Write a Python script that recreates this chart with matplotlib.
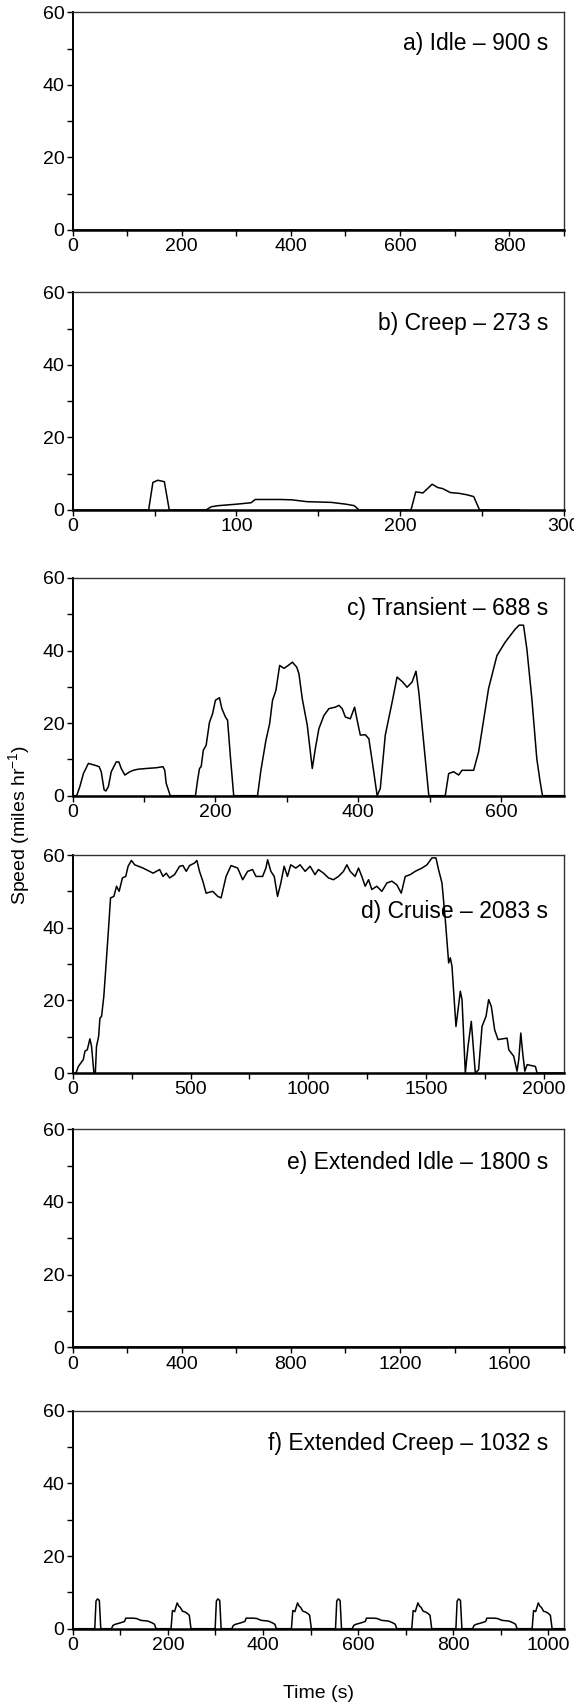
import matplotlib
matplotlib.use('Agg')
import matplotlib.pyplot as plt
from matplotlib.ticker import MultipleLocator
import numpy as np

# fonts
plt.rcParams['font.family'] = ['Liberation Sans', 'DejaVu Sans']
plt.rcParams['mathtext.fontset'] = 'custom'
plt.rcParams['mathtext.rm'] = 'Liberation Sans'

# a) idle
idle_t = [0, 900]
idle_v = [0, 0]

# b) creep
creep_t = [0, 46.4, 49, 52, 56, 59, 81.4, 84.7, 89, 100, 109, 111.5, 127, 134, 143,
           158, 167, 172, 175, 206.7, 209.6, 214, 219.6, 223, 226, 230.8, 236,
           240.8, 245, 248.6, 273]
creep_v = [0, 0, 7.6, 8.2, 7.8, 0, 0, 0.9, 1.2, 1.6, 2.0, 2.9, 2.9, 2.8, 2.3,
           2.1, 1.6, 1.2, 0, 0, 5.0, 4.7, 7.1, 6.2, 5.9, 4.8, 4.6,
           4.2, 3.7, 0, 0]

# c) transient
trans_t = [0, 5.6, 10, 15, 22, 31, 37, 40, 44, 46.5, 50, 54, 61, 64.7, 68, 73, 80,
           85, 91.6, 103, 117, 126.5, 129, 131, 136.7, 172, 175, 177.7, 180, 183,
           187, 191.6, 196, 200, 205.6, 209, 214, 217, 221, 225.6, 259, 263.7,
           270.7, 276, 280, 284.7, 290, 296, 302, 307.9, 314, 317, 321.7, 328.7,
           335.7, 340, 345, 352, 359, 368, 373, 377.6, 382, 389, 395, 398.6, 403,
           410, 415, 420.5, 426.6, 431, 438, 447.6, 454.5, 462.5, 468.5, 475.5,
           481, 485, 499, 522, 526.8, 533.8, 540.8, 545.5, 561.8, 568.8, 582.7,
           594.4, 606, 620, 625.6, 631.7, 636.4, 643.4, 650.3, 655, 658.3, 688]
trans_v = [0, 0, 2.5, 6.1, 8.9, 8.4, 8.0, 6.6, 1.6, 1.3, 2.5, 6.6, 9.3, 9.3, 7.5,
           5.7, 6.6, 7.0, 7.3, 7.5, 7.7, 8.0, 7.0, 3.4, 0, 0, 4.3, 7.5, 8.0, 12.5,
           13.9, 20.2, 22.6, 26.3, 27.0, 24.0, 21.7, 20.8, 10.7, 0, 0, 7.0,
           15.2, 19.9, 26.3, 29.0, 35.9, 35.1, 35.9, 36.8, 35.4, 33.6, 26.7, 19.4,
           7.5, 13.0, 18.5, 22.1, 24.0, 24.4, 24.9, 24.0, 21.7, 21.2, 24.4, 20.8,
           16.7, 16.8, 15.7, 8.4, 0, 2.0, 16.7, 25.8, 32.7, 31.3, 29.9, 31.3,
           34.3, 28.5, 0, 0, 6.1, 6.6, 5.7, 7.0, 7.0, 12.1, 29.5,
           38.6, 42.3, 45.9, 47.0, 47.0, 40.4, 26.7, 10.2, 3.8, 0, 0]

# d) cruise
cruise_t = [0, 14, 24, 45, 52, 62, 73, 80, 90, 96, 101, 110, 115.5, 122.5, 132,
            141, 150.7, 160.6, 174.6, 186, 197, 211, 225, 235, 249, 263, 298.6,
            341, 369, 383, 397, 411, 432, 453.5, 467.6, 481.7, 495.8, 517, 526.8,
            538, 552, 566, 594, 615.5, 629.6, 650.7, 671.8, 700, 721, 742, 763,
            777.5, 805.6, 819.7, 826.8, 840.8, 855, 869, 883, 897, 911, 925,
            946.5, 964.6, 986, 1007, 1028, 1042.5, 1064, 1085, 1106, 1127.5,
            1148.7, 1163, 1177, 1198, 1212.5, 1226.6, 1240.8, 1255, 1269, 1290,
            1311.6, 1332.9, 1354, 1375, 1393.8, 1410.8, 1432, 1453, 1481.6, 1503,
            1524, 1541, 1552, 1566.6, 1580.7, 1595, 1602, 1609, 1626, 1644.5,
            1651.6, 1665.7, 1677, 1691, 1708, 1722, 1736.5, 1753.5, 1764.6, 1776,
            1790, 1804.5, 1842.8, 1850, 1871, 1885, 1892.4, 1901, 1909, 1918,
            1928, 1963, 1970, 2083]
cruise_v = [0, 0, 1.8, 3.7, 6.0, 6.4, 9.4, 7.3, 0, 0, 7.3, 10.1, 15.1, 15.6, 21.1,
            29.4, 38.5, 48.2, 48.6, 51.4, 50.0, 53.7, 54.1, 56.9, 58.5, 57.3, 56.4,
            55.0, 56.0, 54.1, 55.0, 53.7, 54.6, 56.9, 57.1, 55.5, 57.1, 57.8, 58.5,
            55.5, 52.8, 49.5, 50.0, 48.6, 48.2, 54.1, 57.1, 56.4, 53.2, 55.5, 56.0,
            54.1, 54.1, 56.4, 58.7, 55.5, 54.1, 48.6, 52.3, 56.9, 54.1, 57.3,
            56.4, 57.3, 55.5, 56.9, 54.6, 56.0, 55.0, 53.7, 53.2, 54.1,
            55.5, 57.3, 55.5, 54.1, 56.4, 54.1, 51.4, 53.2, 50.5, 51.4,
            50.0, 52.3, 52.8, 51.8, 49.5, 54.1, 54.6, 55.5, 56.4, 57.3,
            59.2, 59.2, 56.0, 52.3, 42.2, 30.3, 31.7, 29.4, 12.8, 22.5,
            20.2, 0, 7.3, 14.2, 0, 0.9, 12.8, 15.6, 20.2, 18.3,
            11.9, 9.2, 9.6, 6.4, 4.6, 0.5, 3.7, 11.0, 5.5, 0.5,
            2.3, 1.8, 0, 0]

# e) extended idle
ext_idle_t = [0, 1800]
ext_idle_v = [0, 0]

# f) extended creep: the creep trace run four times back to back
ext_creep_period = 253
ext_creep_repeats = 4
ext_creep_end = 1032

ext_creep_t = []
ext_creep_v = []
for k in range(ext_creep_repeats):
    for t, v in zip(creep_t, creep_v):
        if t < ext_creep_period:
            ext_creep_t.append(t + k * ext_creep_period)
            ext_creep_v.append(v)
ext_creep_t.append(ext_creep_end)
ext_creep_v.append(0)

panels = [
    (idle_t, idle_v, 900, 200, 100, 'a) Idle \u2013 900 s', 0.855),
    (creep_t, creep_v, 300, 100, 50, 'b) Creep \u2013 273 s', 0.855),
    (trans_t, trans_v, 688, 200, 100, 'c) Transient \u2013 688 s', 0.86),
    (cruise_t, cruise_v, 2083, 500, 250, 'd) Cruise \u2013 2083 s', 0.74),
    (ext_idle_t, ext_idle_v, 1800, 400, 200, 'e) Extended Idle \u2013 1800 s', 0.85),
    (ext_creep_t, ext_creep_v, 1032, 200, 100, 'f) Extended Creep \u2013 1032 s', 0.85),
]

# axes boxes in figure pixels (top, bottom)
H = 1707.0
boxes = [(12.3, 230), (292.3, 510), (578, 795.7), (855, 1073),
         (1129.3, 1347.3), (1410.7, 1628.7)]
left = 72.7 / 574
width = 491 / 574

fig = plt.figure(figsize=(5.74, 17.07), dpi=100)

for (t, v, xmax, major, minor, label, ly), (top, bot) in zip(panels, boxes):
    ax = fig.add_axes([left, 1 - bot / H, width, (bot - top) / H])
    ax.plot(t, v, color='black', lw=1.1, clip_on=False, zorder=3)

    ax.set_xlim(0, xmax)
    ax.set_ylim(0, 60)
    ax.xaxis.set_major_locator(MultipleLocator(major))
    ax.xaxis.set_minor_locator(MultipleLocator(minor))
    ax.yaxis.set_major_locator(MultipleLocator(20))
    ax.yaxis.set_minor_locator(MultipleLocator(10))
    ax.tick_params(which='both', direction='out', length=4, width=1,
                   labelsize=14, pad=2)

    # frame
    ax.spines['bottom'].set_linewidth(1.8)
    ax.spines['left'].set_linewidth(1.4)
    ax.spines['top'].set_linewidth(1.0)
    ax.spines['right'].set_linewidth(1.0)
    ax.spines['top'].set_color('#333333')
    ax.spines['right'].set_color('#333333')

    ax.text(0.968, ly, label, transform=ax.transAxes, ha='right',
            va='center', fontsize=16.5)

# shared axis titles
fig.text(0.035, 1 - 825 / H, 'Speed (miles hr$^{\\mathregular{-1}}$)',
         rotation=90, ha='center', va='center', fontsize=14)
fig.text(left + width / 2, 1 - 1693 / H, 'Time (s)', ha='center',
         va='center', fontsize=14)

plt.savefig('out.png', dpi=100)
